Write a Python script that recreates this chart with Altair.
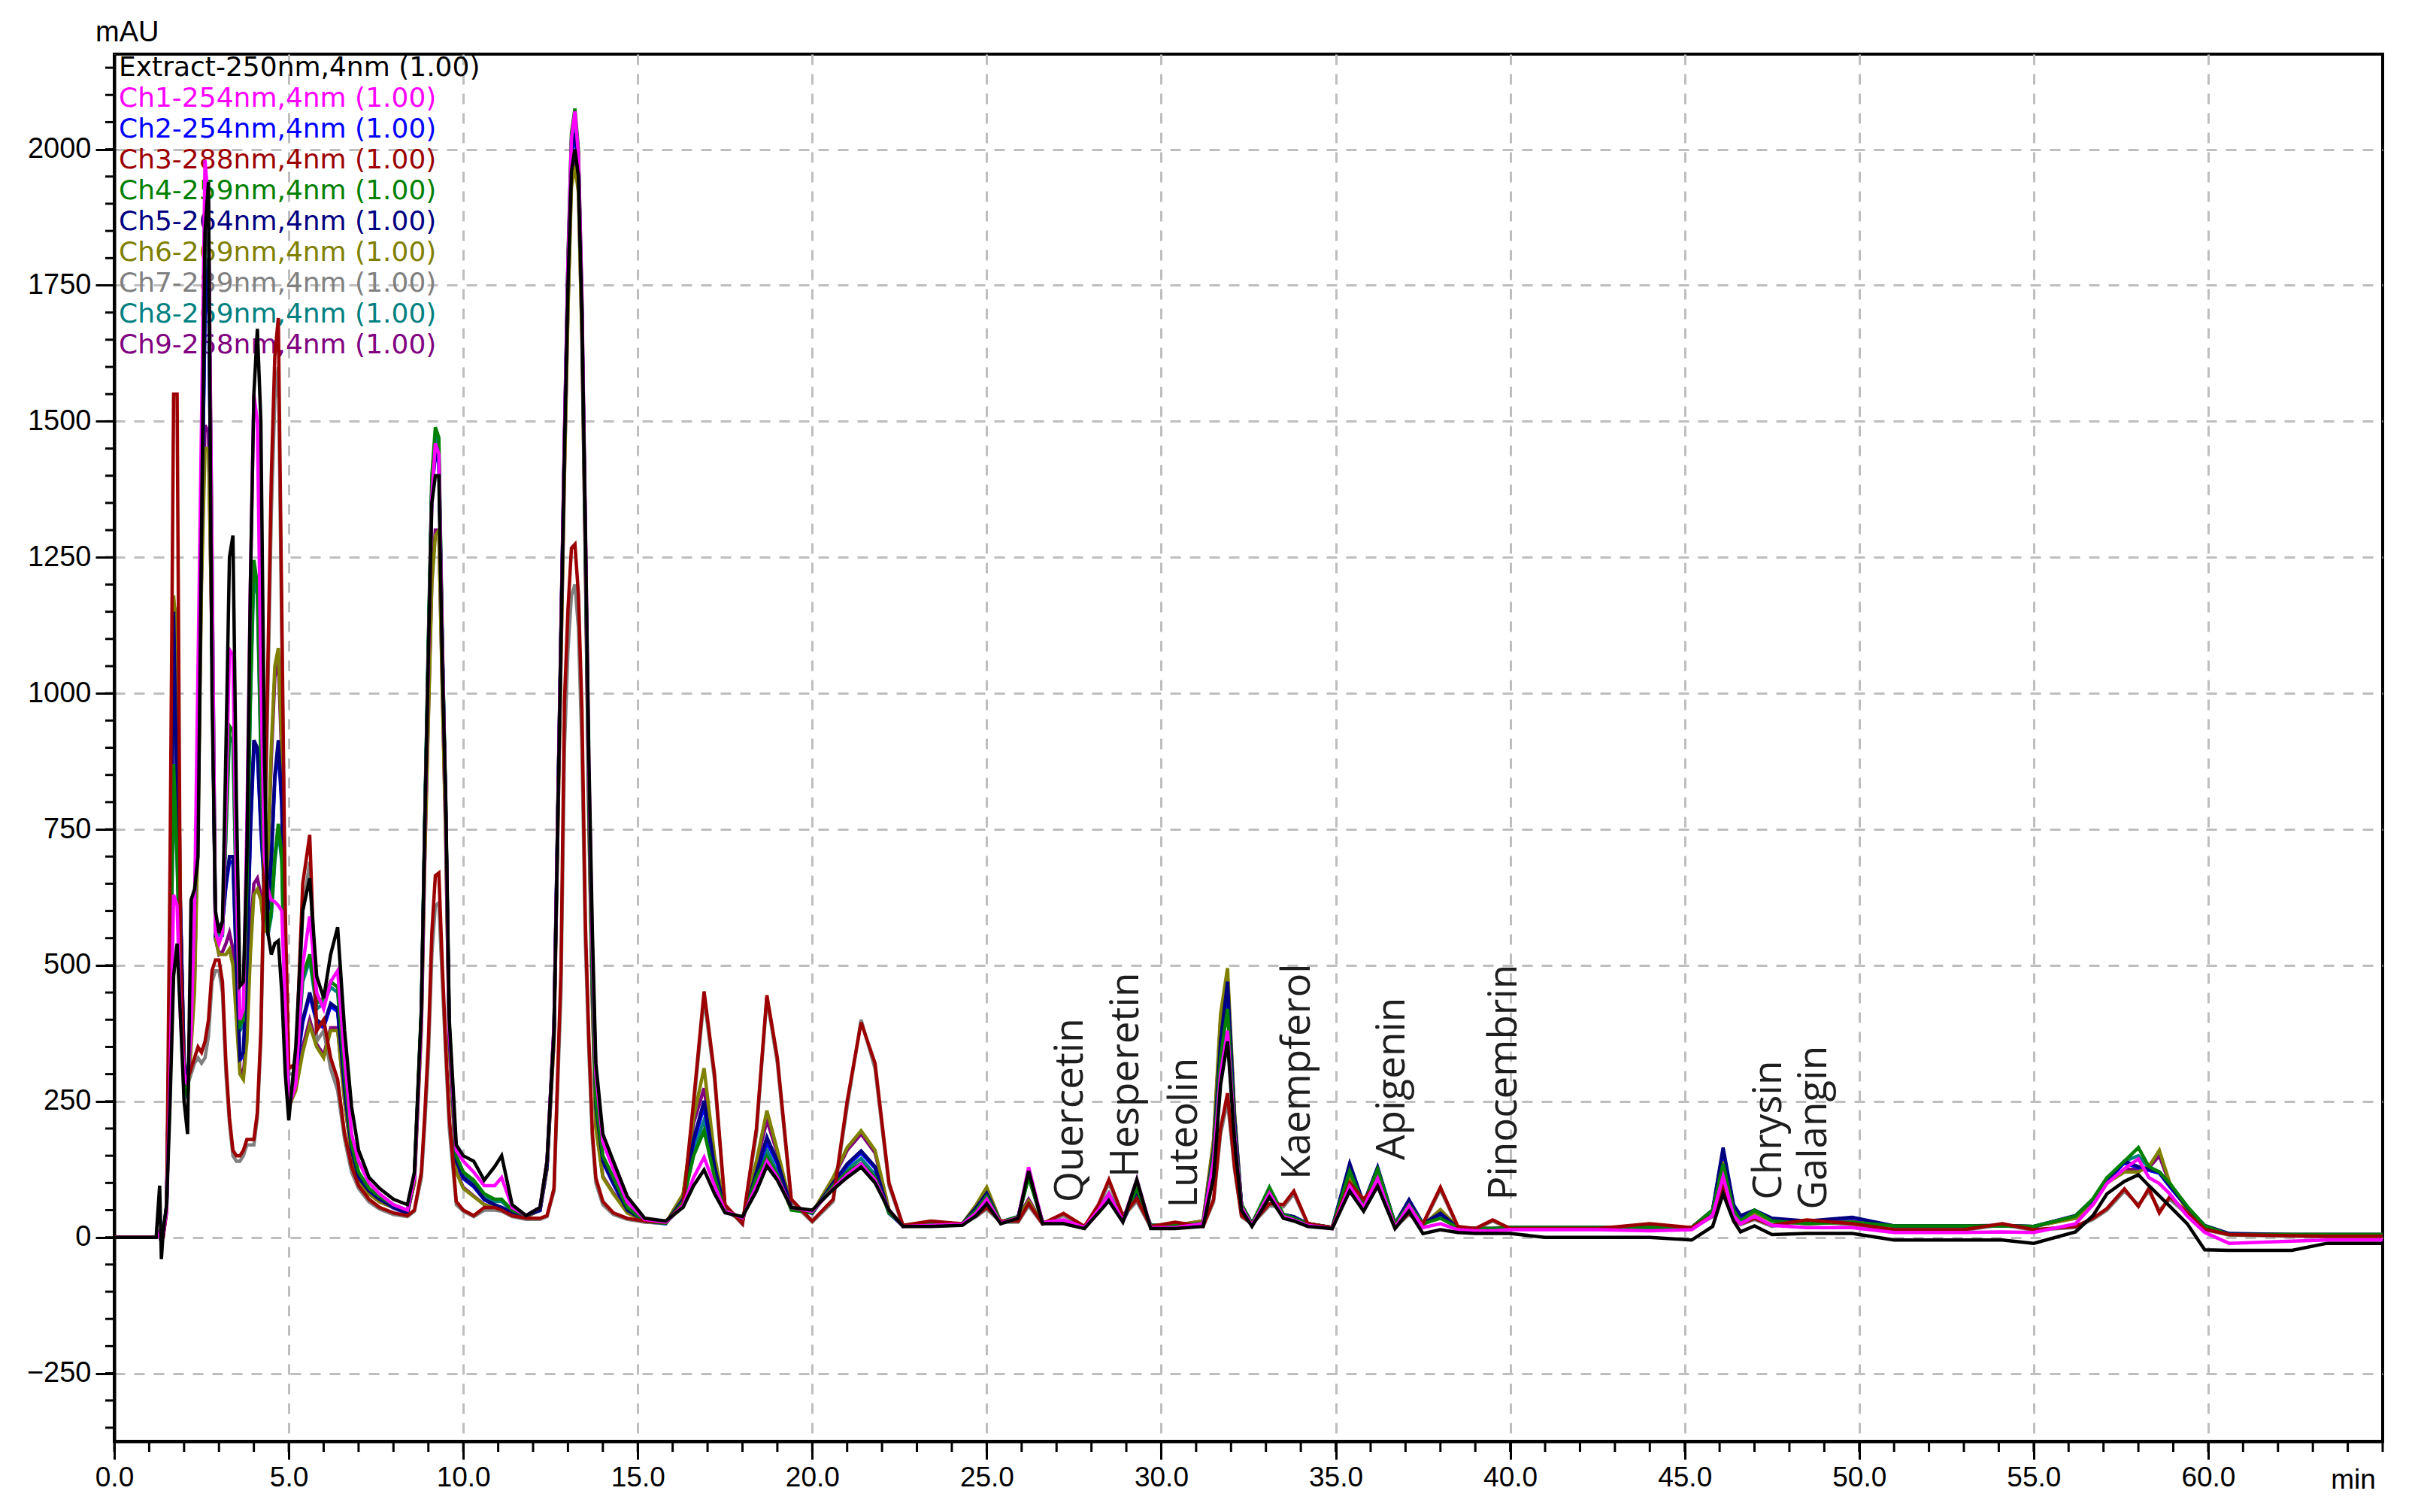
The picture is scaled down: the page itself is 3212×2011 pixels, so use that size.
import altair as alt
import pandas as pd

# retention time (min)
t = [
    0, 1.2, 1.3, 1.35, 1.4, 1.5, 1.6, 1.7, 1.8, 1.9,
    2.0, 2.1, 2.2, 2.3, 2.4, 2.5, 2.6, 2.7, 2.8, 2.9,
    3.0, 3.1, 3.2, 3.3, 3.4, 3.5, 3.6, 3.7, 3.8, 3.9,
    4.0, 4.1, 4.2, 4.3, 4.4, 4.5, 4.6, 4.7, 4.8, 4.9,
    5.0, 5.2, 5.4, 5.6, 5.8, 6.0, 6.2, 6.4, 6.6, 6.8,
    7.0, 7.3, 7.6, 8.0, 8.4, 8.6, 8.8, 8.9, 9.0, 9.1,
    9.2, 9.3, 9.4, 9.5, 9.6, 9.8, 10.0, 10.3, 10.6, 10.9,
    11.1, 11.4, 11.8, 12.2, 12.4, 12.6, 12.8, 12.9, 13.0, 13.1,
    13.2, 13.3, 13.4, 13.5, 13.6, 13.7, 13.8, 14.0, 14.3, 14.7,
    15.2, 15.8, 16.3, 16.6, 16.9, 17.2, 17.5, 18.0, 18.4, 18.7,
    19.0, 19.4, 20.0, 20.6, 21.0, 21.4, 21.8, 22.2, 22.6, 23.4,
    24.3, 24.7, 25.0, 25.4, 25.9, 26.2, 26.6, 27.2, 27.8, 28.2,
    28.5, 28.9, 29.3, 29.7, 30.4, 31.2, 31.5, 31.7, 31.9, 32.1,
    32.3, 32.6, 33.1, 33.5, 33.8, 34.2, 34.9, 35.4, 35.8, 36.2,
    36.7, 37.1, 37.5, 38.0, 38.5, 39.0, 39.5, 40.0, 41.0, 42.5,
    44.0, 45.2, 45.8, 46.1, 46.4, 46.6, 47.0, 47.5, 48.5, 49.8,
    51.0, 53.0, 54.1, 55.0, 56.2, 56.7, 57.1, 57.6, 58.0, 58.3,
    58.6, 58.9, 59.4, 59.9, 60.6, 62.4, 63.4, 65.0,
]

extract = [
    0, 0, 95, -40, 10, 60, 250, 480, 540, 400,
    250, 190, 620, 640, 700, 1300, 1850, 1940, 1000, 600,
    560, 580, 900, 1250, 1290, 800, 462, 470, 700, 1200,
    1550, 1670, 1500, 900, 560, 520, 540, 545, 450, 300,
    215, 350, 600, 660, 480, 440, 520, 570, 380, 240,
    160, 110, 90, 70, 60, 120, 420, 760, 1070, 1350,
    1400, 1400, 1050, 800, 400, 170, 150, 140, 105, 130,
    150, 60, 40, 55, 140, 380, 1100, 1450, 1750, 1960,
    2000, 1950, 1700, 1300, 880, 560, 320, 190, 140, 75,
    35, 30, 55, 95, 124, 80, 45, 38, 85, 131,
    105, 55, 50, 88, 110, 129, 100, 50, 20, 20,
    22, 40, 62, 25, 35, 122, 25, 25, 16, 45,
    67, 28, 106, 16, 16, 20, 110, 280, 360, 180,
    50, 20, 74, 35, 30, 20, 16, 85, 48, 94,
    16, 48, 7, 14, 9, 7, 7, 7, 0, 0,
    0, -5, 20, 80, 30, 10, 21, 5, 7, 7,
    -5, -5, -5, -11, 10, 40, 80, 103, 115, 95,
    76, 57, 25, -23, -24, -24, -11, -11,
]

ch1 = [
    0, 0, 10, -10, 5, 50, 300, 630, 610, 400,
    300, 280, 380, 600, 1050, 1500, 1980, 1900, 1250, 560,
    540, 560, 800, 1080, 1070, 650, 400, 420, 760, 1200,
    1549, 1500, 1040, 700, 640, 620, 617, 610, 600, 420,
    240, 280, 500, 590, 450, 420, 470, 490, 330, 190,
    140, 100, 80, 60, 50, 110, 400, 750, 1060, 1360,
    1460, 1440, 1080, 780, 380, 160, 140, 120, 95, 95,
    110, 55, 40, 55, 140, 390, 1120, 1480, 1790, 2020,
    2070, 1990, 1730, 1310, 860, 530, 300, 175, 125, 65,
    33, 28, 58, 110, 147, 95, 48, 36, 95, 140,
    110, 55, 48, 90, 115, 135, 105, 50, 20, 22,
    24, 45, 70, 26, 36, 129, 27, 32, 18, 50,
    80, 30, 106, 18, 18, 25, 140, 300, 380, 190,
    55, 22, 81, 38, 32, 22, 16, 94, 55, 108,
    18, 58, 18, 25, 14, 12, 12, 14, 14, 14,
    12, 14, 40, 112, 40, 25, 39, 22, 18, 18,
    9, 9, 10, 9, 25, 60, 99, 126, 144, 110,
    99, 80, 39, 9, -11, -7, -5, -5,
]

ch2 = [
    0, 0, 10, -10, 5, 58, 480, 1130, 790, 590,
    315, 265, 440, 610, 790, 1290, 1690, 1790, 1090, 555,
    565, 575, 645, 690, 690, 495, 325, 335, 495, 740,
    900, 890, 750, 640, 595, 690, 840, 900, 790, 445,
    245, 295, 395, 445, 395, 385, 425, 415, 265, 158,
    108, 84, 69, 54, 44, 108, 405, 765, 1075, 1375,
    1435, 1425, 1085, 775, 365, 138, 108, 93, 69, 59,
    54, 44, 39, 49, 128, 378, 1105, 1455, 1775, 1995,
    2020, 1975, 1695, 1265, 795, 455, 238, 138, 98, 49,
    29, 25, 68, 175, 240, 127, 49, 31, 117, 175,
    135, 54, 44, 98, 132, 155, 127, 44, 21, 23,
    24, 54, 79, 27, 37, 113, 27, 29, 19, 47,
    74, 29, 84, 21, 21, 24, 157, 355, 460, 215,
    59, 24, 84, 41, 37, 24, 17, 133, 61, 127,
    24, 67, 24, 43, 17, 15, 15, 17, 17, 17,
    17, 17, 49, 160, 58, 38, 49, 34, 29, 36,
    20, 20, 21, 19, 39, 68, 103, 137, 128, 123,
    118, 93, 54, 21, 6, 4, 4, 4,
]

ch3 = [
    0, 0, 10, -5, 0, 50, 700, 1550, 1550, 500,
    300, 290, 310, 330, 350, 340, 360, 400, 490, 510,
    510, 470, 320, 220, 160, 150, 150, 160, 180, 180,
    180, 230, 380, 700, 1050, 1400, 1620, 1690, 1150, 600,
    310, 320, 650, 740, 380, 400, 330, 290, 190, 130,
    95, 70, 55, 45, 40, 50, 120, 230, 360, 560,
    665, 670, 500, 350, 220, 66, 50, 40, 55, 55,
    50, 40, 35, 35, 40, 90, 490, 985, 1154, 1267,
    1274, 1182, 970, 575, 363, 193, 109, 66, 45, 35,
    30, 28, 60, 250, 452, 300, 60, 25, 200, 445,
    330, 70, 30, 70, 250, 395, 320, 100, 22, 30,
    25, 40, 55, 30, 30, 62, 25, 44, 20, 60,
    106, 40, 71, 20, 28, 20, 70, 200, 265, 130,
    40, 25, 62, 60, 85, 25, 18, 100, 70, 100,
    20, 45, 25, 92, 20, 16, 32, 16, 16, 16,
    25, 18, 40, 100, 35, 25, 35, 22, 32, 25,
    14, 14, 25, 14, 20, 35, 53, 89, 57, 90,
    45, 75, 45, 15, 5, 3, 2, 2,
]

ch4 = [
    0, 0, 10, -10, 5, 50, 400, 870, 700, 450,
    300, 260, 420, 600, 900, 1400, 1850, 1880, 1260, 560,
    560, 560, 750, 940, 930, 620, 390, 400, 650, 1000,
    1245, 1200, 900, 620, 560, 600, 700, 760, 700, 400,
    250, 300, 480, 520, 430, 440, 470, 460, 300, 170,
    120, 90, 75, 60, 50, 115, 420, 780, 1100, 1400,
    1489, 1470, 1100, 790, 390, 150, 120, 105, 80, 70,
    70, 50, 40, 55, 140, 390, 1120, 1470, 1800, 2030,
    2075, 2000, 1720, 1290, 820, 480, 250, 150, 110, 55,
    30, 26, 65, 150, 196, 110, 50, 35, 110, 148,
    115, 50, 45, 95, 120, 136, 110, 45, 22, 24,
    25, 50, 75, 28, 38, 110, 28, 30, 20, 50,
    81, 32, 90, 22, 22, 25, 150, 330, 420, 200,
    60, 25, 92, 42, 35, 25, 18, 122, 60, 125,
    25, 60, 25, 35, 18, 16, 16, 18, 18, 18,
    18, 18, 50, 135, 50, 30, 50, 30, 25, 28,
    21, 21, 21, 20, 39, 71, 110, 140, 165, 130,
    120, 99, 57, 21, 5, 5, 5, 5,
]

ch5 = [
    0, 0, 10, -10, 5, 60, 500, 1150, 800, 600,
    320, 270, 450, 620, 800, 1300, 1700, 1800, 1100, 560,
    570, 580, 650, 700, 700, 500, 330, 340, 500, 750,
    914, 900, 760, 650, 600, 700, 850, 914, 800, 450,
    250, 300, 400, 450, 400, 390, 430, 420, 270, 160,
    110, 85, 70, 55, 45, 110, 410, 770, 1080, 1380,
    1440, 1430, 1090, 780, 370, 140, 110, 95, 70, 60,
    55, 45, 40, 50, 130, 380, 1110, 1460, 1780, 2000,
    2030, 1980, 1700, 1270, 800, 460, 240, 140, 100, 50,
    30, 26, 70, 180, 251, 130, 50, 32, 120, 184,
    140, 55, 45, 100, 135, 159, 130, 45, 22, 24,
    25, 55, 81, 28, 38, 115, 28, 30, 20, 48,
    75, 30, 85, 22, 22, 25, 160, 360, 470, 220,
    60, 25, 85, 42, 38, 25, 18, 136, 62, 129,
    25, 69, 25, 44, 18, 16, 16, 18, 18, 18,
    18, 18, 50, 165, 60, 40, 50, 35, 30, 37,
    21, 21, 22, 20, 40, 70, 105, 140, 130, 125,
    120, 95, 55, 22, 7, 5, 5, 5,
]

ch6 = [
    0, 0, 10, -10, 5, 55, 500, 1180, 1100, 600,
    320, 260, 350, 450, 750, 1200, 1450, 1450, 1100, 550,
    520, 520, 520, 530, 500, 400, 300, 290, 360, 520,
    630, 640, 620, 560, 700, 900, 1050, 1083, 900, 400,
    240, 270, 340, 390, 350, 330, 380, 380, 250, 150,
    100, 80, 65, 55, 45, 100, 380, 700, 950, 1200,
    1290, 1300, 1000, 720, 350, 120, 90, 75, 60, 55,
    50, 42, 38, 50, 125, 360, 1060, 1400, 1700, 1930,
    1970, 1920, 1650, 1230, 760, 430, 200, 110, 80, 45,
    30, 26, 80, 220, 311, 150, 50, 30, 140, 233,
    160, 55, 45, 110, 165, 196, 160, 50, 22, 24,
    25, 60, 92, 28, 36, 67, 26, 30, 20, 45,
    72, 30, 80, 20, 22, 30, 180, 410, 495, 230,
    60, 25, 80, 40, 35, 25, 18, 110, 60, 110,
    22, 55, 22, 51, 18, 16, 16, 18, 18, 18,
    18, 18, 50, 140, 50, 30, 45, 30, 25, 28,
    21, 21, 21, 20, 35, 60, 100, 120, 120, 130,
    160, 100, 50, 20, 5, 5, 5, 5,
]

ch7 = [
    0, 0, 10, -5, 0, 45, 500, 1160, 1150, 480,
    290, 280, 300, 320, 330, 320, 330, 370, 470, 490,
    490, 450, 300, 210, 150, 140, 140, 150, 170, 170,
    170, 220, 360, 660, 1000, 1330, 1540, 1600, 1100, 560,
    300, 300, 600, 690, 360, 380, 310, 270, 180, 120,
    90, 65, 52, 42, 38, 48, 110, 210, 330, 520,
    610, 615, 470, 330, 200, 60, 48, 38, 50, 50,
    48, 38, 33, 33, 38, 85, 450, 900, 1080, 1180,
    1200, 1120, 900, 540, 340, 180, 100, 60, 42, 33,
    28, 26, 58, 240, 440, 290, 58, 24, 190, 440,
    320, 66, 28, 66, 240, 400, 310, 95, 20, 28,
    24, 38, 52, 28, 28, 58, 24, 40, 18, 56,
    100, 38, 66, 18, 26, 20, 65, 190, 250, 125,
    38, 24, 58, 56, 80, 24, 16, 95, 66, 95,
    18, 42, 24, 88, 18, 15, 30, 15, 15, 15,
    23, 16, 38, 95, 33, 23, 33, 20, 30, 23,
    13, 13, 23, 13, 18, 33, 50, 85, 60, 85,
    50, 70, 42, 14, 4, 2, 1, 1,
]

ch8 = [
    0, 0, 10, -10, 5, 50, 380, 850, 690, 440,
    295, 255, 410, 590, 880, 1380, 1820, 1850, 1230, 555,
    555, 555, 740, 920, 910, 600, 380, 390, 640, 980,
    1220, 1180, 880, 610, 555, 590, 690, 750, 690, 390,
    245, 295, 470, 510, 420, 430, 460, 450, 295, 165,
    115, 88, 72, 58, 48, 112, 415, 775, 1090, 1390,
    1475, 1455, 1090, 785, 385, 145, 115, 100, 76, 66,
    66, 48, 39, 53, 136, 385, 1115, 1465, 1790, 2020,
    2050, 1990, 1710, 1280, 810, 470, 245, 145, 105, 52,
    30, 26, 66, 160, 215, 115, 50, 34, 112, 160,
    120, 52, 45, 96, 125, 145, 115, 45, 22, 24,
    25, 52, 78, 28, 38, 112, 28, 30, 20, 49,
    78, 31, 88, 22, 22, 25, 152, 340, 440, 205,
    60, 25, 88, 42, 36, 25, 18, 128, 61, 126,
    25, 64, 25, 38, 18, 16, 16, 18, 18, 18,
    18, 18, 50, 150, 55, 35, 50, 32, 27, 30,
    21, 21, 21, 20, 39, 70, 108, 140, 150, 128,
    120, 97, 56, 21, 5, 5, 5, 5,
]

ch9 = [
    0, 0, 10, -10, 5, 55, 480, 1150, 1080, 590,
    320, 260, 360, 470, 780, 1220, 1493, 1480, 1080, 550,
    520, 525, 540, 560, 530, 420, 310, 300, 380, 560,
    650, 660, 630, 560, 690, 880, 1030, 1060, 880, 390,
    240, 275, 350, 400, 355, 335, 385, 385, 250, 150,
    100, 80, 65, 55, 45, 100, 390, 710, 960, 1210,
    1300, 1300, 1010, 730, 355, 122, 92, 76, 60, 55,
    50, 42, 38, 50, 126, 362, 1065, 1410, 1710, 1950,
    1990, 1930, 1660, 1240, 770, 435, 205, 112, 82, 46,
    30, 26, 78, 210, 274, 140, 50, 30, 135, 215,
    155, 55, 45, 108, 160, 190, 155, 50, 22, 24,
    25, 58, 88, 28, 36, 70, 26, 30, 20, 46,
    74, 30, 82, 20, 22, 30, 175, 400, 480, 225,
    60, 25, 82, 40, 35, 25, 18, 115, 60, 115,
    22, 58, 22, 50, 18, 16, 16, 18, 18, 18,
    18, 18, 50, 145, 52, 32, 46, 31, 26, 29,
    21, 21, 21, 20, 36, 62, 102, 125, 125, 128,
    150, 98, 52, 20, 5, 5, 5, 5,
]

legend_names = [
    "Extract-250nm,4nm (1.00)",
    "Ch1-254nm,4nm (1.00)",
    "Ch2-254nm,4nm (1.00)",
    "Ch3-288nm,4nm (1.00)",
    "Ch4-259nm,4nm (1.00)",
    "Ch5-264nm,4nm (1.00)",
    "Ch6-269nm,4nm (1.00)",
    "Ch7-289nm,4nm (1.00)",
    "Ch8-269nm,4nm (1.00)",
    "Ch9-268nm,4nm (1.00)",
]
legend_colors = ["#000000", "#FF00FF", "#0000FF", "#9C0000", "#008000",
                 "#000080", "#808000", "#808080", "#008080", "#800080"]
series_values = [extract, ch1, ch2, ch3, ch4, ch5, ch6, ch7, ch8, ch9]

# compound annotations
compounds = ["Quercetin", "Hesperetin", "Luteolin", "Kaempferol", "Apigenin",
             "Pinocembrin", "Chrysin", "Galangin"]
compound_t = [27.76, 29.35, 31.03, 34.25, 36.96, 40.19, 47.76, 49.05]
compound_v = [64, 110, 54, 106, 142, 68, 69, 51]

x_major = [0, 5, 10, 15, 20, 25, 30, 35, 40, 45, 50, 55, 60]
y_major = [-250, 0, 250, 500, 750, 1000, 1250, 1500, 1750, 2000]
x_minor = list(range(0, 66))
y_minor = list(range(-350, 2151, 50))

for vals in series_values:
    assert len(vals) == len(t), (len(vals), len(t))

W, H = 3017, 1845
xscale = alt.Scale(domain=[0, 65], nice=False, zero=False)
yscale = alt.Scale(domain=[-375, 2175], nice=False, zero=False)

common_axis = dict(
    title=None, labelFont="Liberation Sans", labelColor="black",
    labelPadding=6, tickWidth=3, tickColor="black",
    domainColor="black", domainWidth=4, grid=True, gridColor="#BEBEBE",
    gridDash=[14, 12], gridWidth=3, labelFlush=False, labelOverlap=False,
)
xaxis = alt.Axis(values=x_major, format=".1f", labelFontSize=37, tickSize=24, **common_axis)
yaxis = alt.Axis(values=y_major, format="d", labelFontSize=38, tickSize=25, **common_axis)

X = lambda f: alt.X(f, scale=xscale, axis=xaxis)
Y = lambda f: alt.Y(f, scale=yscale, axis=yaxis)

layers = []

# legend text (under the traces)
for i, (name, col) in enumerate(zip(legend_names, legend_colors)):
    layers.append(
        alt.Chart(pd.DataFrame({"s": [name]})).mark_text(
            align="left", baseline="middle", font="DejaVu Sans", fontSize=36, color=col
        ).encode(x=alt.value(6), y=alt.value(18 + 41 * i), text="s:N")
    )

# traces: bottom to top
draw_order = [8, 9, 2, 7, 6, 5, 4, 3, 1, 0]
for k in draw_order:
    df = pd.DataFrame({"t": t, "v": series_values[k]})
    layers.append(
        alt.Chart(df).mark_line(color=legend_colors[k], strokeWidth=4.5, clip=True,
                                strokeJoin="miter").encode(x=X("t:Q"), y=Y("v:Q"))
    )

# compound labels
cdf = pd.DataFrame({"name": compounds, "t": compound_t, "v": compound_v})
layers.append(
    alt.Chart(cdf).mark_text(angle=270, align="left", baseline="alphabetic",
                             font="Open Sans", fontSize=53, color="#1e1e1e").encode(
        x=X("t:Q"), y=Y("v:Q"), text="name:N")
)

# minor ticks
layers.append(
    alt.Chart(pd.DataFrame({"t": x_minor})).mark_rule(color="black", strokeWidth=3).encode(
        x=X("t:Q"), y=alt.value(H), y2=alt.value(H + 14))
)
layers.append(
    alt.Chart(pd.DataFrame({"v": y_minor})).mark_rule(color="black", strokeWidth=3).encode(
        y=Y("v:Q"), x=alt.value(-12), x2=alt.value(0))
)

# unit labels
layers.append(
    alt.Chart(pd.DataFrame({"s": ["mAU"]})).mark_text(
        align="left", baseline="alphabetic", font="Liberation Sans", fontSize=38, color="black"
    ).encode(x=alt.value(-25), y=alt.value(-17), text="s:N")
)
layers.append(
    alt.Chart(pd.DataFrame({"s": ["min"]})).mark_text(
        align="center", baseline="alphabetic", font="Liberation Sans", fontSize=37, color="black"
    ).encode(x=alt.value(2978), y=alt.value(1908), text="s:N")
)

chart = alt.layer(*layers).properties(
    width=W, height=H,
    padding={"left": 144, "top": 64, "right": 30, "bottom": 80},
    autosize=alt.AutoSizeParams(type="none"),
    background="white",
).configure_view(stroke="black", strokeWidth=4)

chart.save("out.html", embed_options={"renderer": "svg", "actions": False})
